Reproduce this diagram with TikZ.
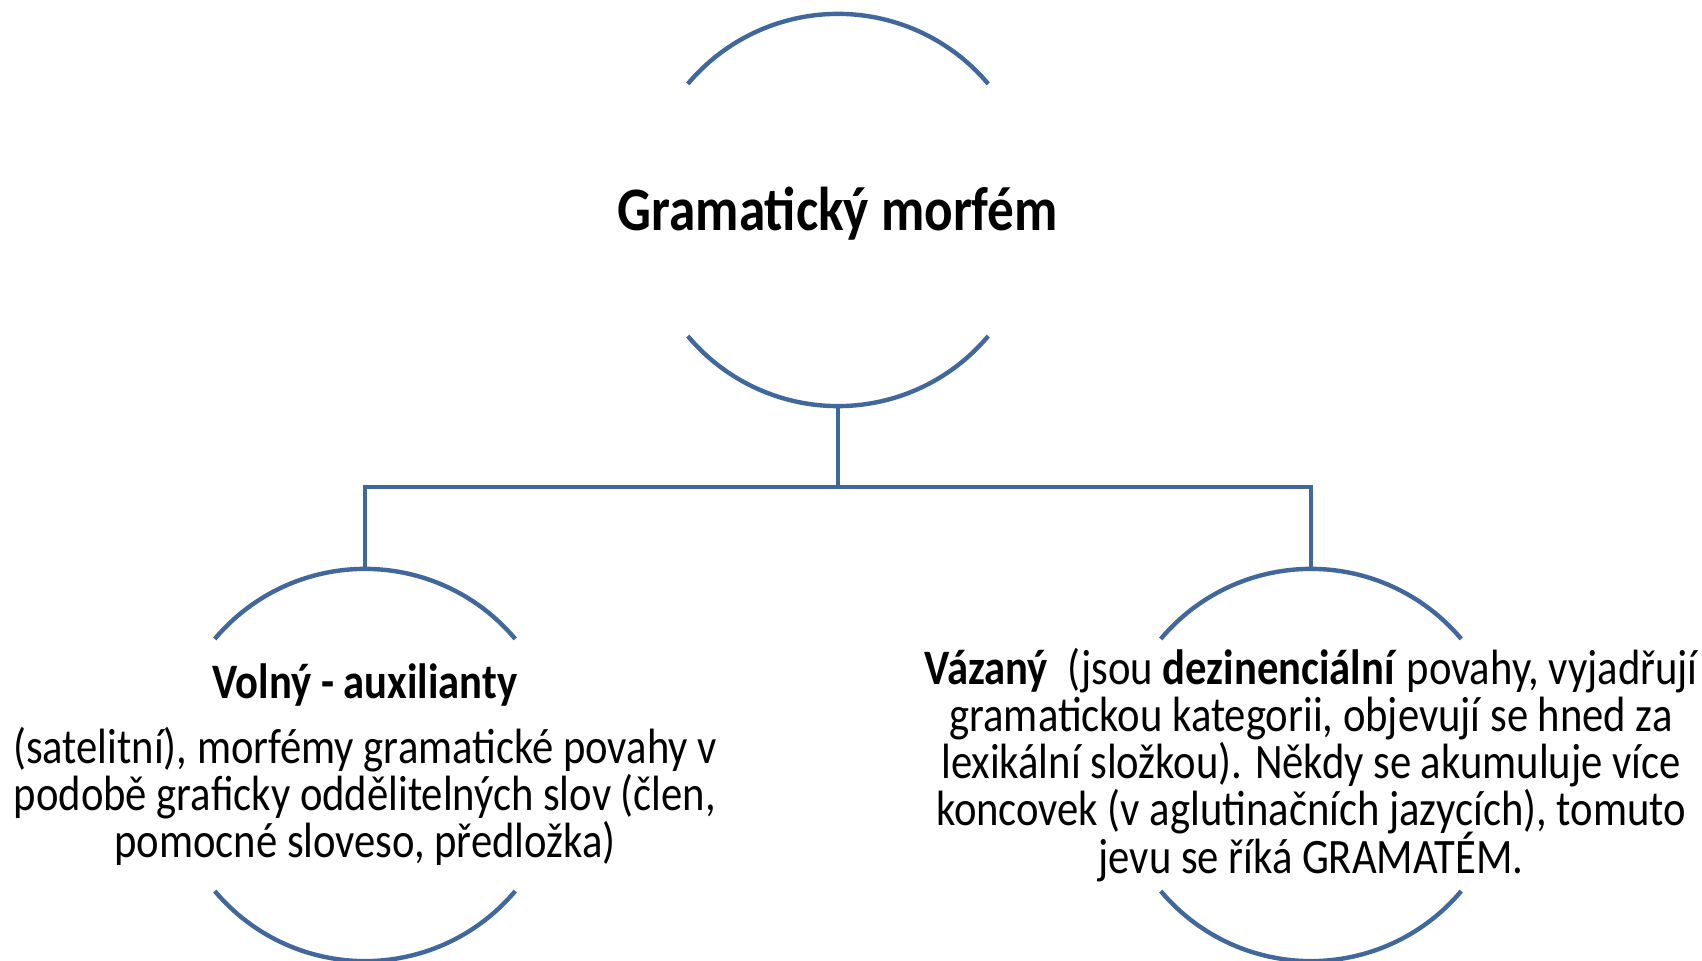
\documentclass[tikz,border=0pt]{standalone}
\usepackage{fontspec}
\setmainfont{Carlito}
\definecolor{smartblue}{RGB}{64,104,156}
\setlength{\lineskiplimit}{-20pt}
\begin{document}
\begin{tikzpicture}[x=0.01cm,y=-0.01cm,
    ring/.style={circle,minimum size=3.92cm,inner sep=0pt,outer sep=0pt},
    arcline/.style={draw=smartblue,line width=1.25pt},
    connector/.style={draw=smartblue,line width=1.25pt},
    titletext/.style={font=\fontsize{17.6}{20}\selectfont\bfseries,align=center,xscale=0.86,transform shape},
    bodytext/.style={font=\fontsize{14.1}{13.4}\selectfont,align=center,xscale=0.86,transform shape}]
  \useasboundingbox (0,0) rectangle (1702,961);

  % rings
  \node[ring] (root) at (838,210) {};
  \node[ring] (volny) at (365,765) {};
  \node[ring] (vazany) at (1311,765) {};

  % upper and lower arc of each ring
  \foreach \n in {root,volny,vazany}{
    \draw[arcline] (\n.140) arc[start angle=140,end angle=40,radius=1.96cm];
    \draw[arcline] (\n.220) arc[start angle=220,end angle=320,radius=1.96cm];
  }

  % connectors
  \draw[connector] (root.south) -- ++(0,81) coordinate (fork) -| (volny.north);
  \draw[connector] (fork) -| (vazany.north);

  % texts
  \node[titletext,yshift=-0.9pt] (root-text) at (root) {Gramatický morfém};
  \node[bodytext] (volny-text) at (volny) {\textbf{Volný - auxilianty}\\[5pt]
    (satelitní), morfémy gramatické povahy v\\
    podobě graficky oddělitelných slov (člen,\\
    pomocné sloveso, předložka)};
  \node[bodytext] (vazany-text) at (vazany) {\textbf{Vázaný}\ \ (jsou \textbf{dezinenciální} povahy, vyjadřují\\
    gramatickou kategorii, objevují se hned za\\
    lexikální složkou). Někdy se akumuluje více\\
    koncovek (v aglutinačních jazycích), tomuto\\
    jevu se říká GRAMATÉM.};
\end{tikzpicture}
\end{document}
